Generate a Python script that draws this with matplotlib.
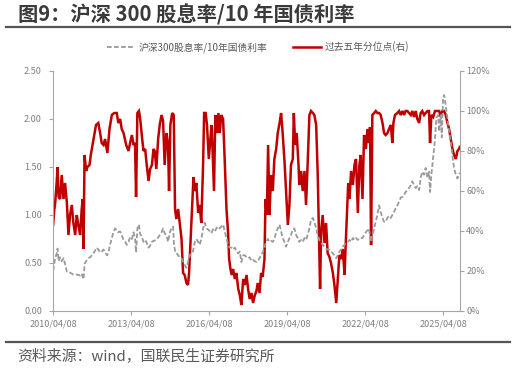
import matplotlib
matplotlib.use("Agg")
import matplotlib.pyplot as plt
import matplotlib.dates as mdates
from datetime import datetime, timedelta

plt.rcParams['font.family'] = ['Noto Sans CJK SC', 'DejaVu Sans']

# ---- data (time in decimal years) ----
red_t = [2010.27, 2010.31, 2010.35, 2010.41, 2010.44, 2010.48, 2010.54, 2010.60, 2010.67, 2010.73,
         2010.80, 2010.86, 2010.92, 2010.99, 2011.05, 2011.12, 2011.18, 2011.24, 2011.31, 2011.37,
         2011.41, 2011.44, 2011.48, 2011.54, 2011.59, 2011.67, 2011.72, 2011.80, 2011.85, 2011.92,
         2012.01, 2012.08, 2012.14, 2012.21, 2012.27, 2012.36, 2012.44, 2012.53, 2012.62, 2012.72,
         2012.78, 2012.85, 2012.91, 2012.98, 2013.08, 2013.17, 2013.23, 2013.30, 2013.36, 2013.42,
         2013.46, 2013.51, 2013.57, 2013.62, 2013.68, 2013.745, 2013.81, 2013.87, 2013.94, 2014.00,
         2014.07, 2014.13, 2014.18, 2014.24, 2014.31, 2014.37, 2014.44, 2014.50, 2014.56, 2014.63,
         2014.69, 2014.73, 2014.78, 2014.85, 2014.91, 2014.96, 2015.01, 2015.08, 2015.14, 2015.21,
         2015.27, 2015.33, 2015.40, 2015.46, 2015.50, 2015.55, 2015.62, 2015.67, 2015.72, 2015.78,
         2015.85, 2015.91, 2015.97, 2016.04, 2016.08, 2016.14, 2016.19, 2016.26, 2016.32, 2016.37,
         2016.42, 2016.46, 2016.51, 2016.58, 2016.63, 2016.68, 2016.74, 2016.81, 2016.87, 2016.94,
         2017.00, 2017.04, 2017.09, 2017.14, 2017.19, 2017.26, 2017.32, 2017.39, 2017.45, 2017.51,
         2017.58, 2017.64, 2017.71, 2017.77, 2017.83, 2017.90, 2017.96, 2018.03, 2018.09, 2018.14,
         2018.21, 2018.27, 2018.33, 2018.40, 2018.44, 2018.49, 2018.54, 2018.59, 2018.655, 2018.72,
         2018.78, 2018.85, 2018.91, 2018.98, 2019.04, 2019.10, 2019.17, 2019.23, 2019.30, 2019.36,
         2019.42, 2019.49, 2019.53, 2019.58, 2019.64, 2019.71, 2019.74, 2019.81, 2019.87, 2019.94,
         2020.00, 2020.06, 2020.13, 2020.19, 2020.26, 2020.32, 2020.39, 2020.45, 2020.49, 2020.54,
         2020.58, 2020.64, 2020.71, 2020.77, 2020.83, 2020.90, 2020.96, 2021.03, 2021.09, 2021.16,
         2021.22, 2021.28, 2021.35, 2021.41, 2021.48, 2021.51, 2021.57, 2021.62, 2021.67, 2021.73,
         2021.80, 2021.86, 2021.92, 2021.99, 2022.05, 2022.10, 2022.17, 2022.23, 2022.30, 2022.36,
         2022.42, 2022.46, 2022.50, 2022.55, 2022.62, 2022.68, 2022.74, 2022.81, 2022.87, 2022.94,
         2023.00, 2023.06, 2023.13, 2023.19, 2023.26, 2023.32, 2023.36, 2023.42, 2023.51, 2023.58,
         2023.64, 2023.71, 2023.77, 2023.83, 2023.90, 2023.96, 2024.03, 2024.09, 2024.15, 2024.22,
         2024.28, 2024.35, 2024.41, 2024.47, 2024.54, 2024.60, 2024.67, 2024.73, 2024.77, 2024.82,
         2024.89, 2024.96, 2025.05, 2025.12, 2025.18, 2025.24, 2025.31, 2025.37, 2025.44, 2025.50,
         2025.565, 2025.63, 2025.69, 2025.76, 2025.82, 2025.885, 2025.91]
red_v = [43, 50, 54, 65, 72, 57, 56, 68, 56, 64,
         54, 38, 48, 53, 44, 38, 48, 43, 38, 51,
         56, 31, 78, 70, 72, 73, 78, 84, 88, 93,
         94, 89, 84, 83, 86, 79, 91, 98, 99, 99,
         94, 96, 91, 89, 83, 80, 84, 88, 83, 84,
         57, 99, 100, 96, 88, 80, 81, 73, 65, 71,
         73, 81, 80, 71, 86, 93, 98, 95, 73, 89,
         83, 60, 93, 99, 98, 51, 46, 51, 44, 36,
         19, 18, 14, 13, 19, 33, 53, 67, 60, 64,
         49, 53, 44, 73, 99, 99, 93, 76, 86, 93,
         75, 60, 98, 89, 99, 89, 98, 96, 76, 51,
         39, 26, 21, 18, 21, 16, 19, 11, 8, 3,
         16, 13, 18, 11, 6, 9, 4, 8, 10, 14,
         9, 19, 17, 26, 56, 48, 83, 48, 68, 60,
         76, 81, 89, 94, 99, 89, 75, 60, 43, 53,
         73, 76, 99, 83, 89, 73, 63, 70, 60, 70,
         53, 73, 98, 100, 99, 98, 93, 68, 43, 11,
         40, 48, 34, 44, 29, 27, 24, 19, 13, 4,
         16, 28, 26, 31, 18, 29, 48, 64, 56, 70,
         63, 73, 76, 49, 73, 78, 56, 88, 81, 91,
         84, 92, 33, 98, 99, 100, 99, 99, 98, 94,
         89, 88, 89, 91, 93, 84, 94, 98, 99, 100,
         98, 100, 98, 100, 100, 99, 98, 100, 97, 100,
         96, 94, 99, 100, 98, 99, 100, 100, 84, 98,
         97, 100, 100, 100, 97, 100, 100, 98, 94, 91,
         86, 81, 78, 76, 80, 81, 82]

gray_t = [2010.27, 2010.35, 2010.41, 2010.44, 2010.48, 2010.54, 2010.60, 2010.67, 2010.73, 2010.80,
          2010.86, 2010.92, 2011.05, 2011.18, 2011.31, 2011.37, 2011.44, 2011.48, 2011.54, 2011.63,
          2011.69, 2011.76, 2011.82, 2011.95, 2012.01, 2012.08, 2012.14, 2012.21, 2012.27, 2012.35,
          2012.40, 2012.46, 2012.53, 2012.59, 2012.655, 2012.72, 2012.78, 2012.85, 2012.91, 2012.98,
          2013.04, 2013.10, 2013.17, 2013.23, 2013.30, 2013.36, 2013.42, 2013.46, 2013.51, 2013.57,
          2013.62, 2013.68, 2013.745, 2013.81, 2013.87, 2013.94, 2014.00, 2014.07, 2014.13, 2014.24,
          2014.37, 2014.44, 2014.50, 2014.56, 2014.63, 2014.69, 2014.76, 2014.82, 2014.885, 2014.92,
          2014.975, 2015.01, 2015.08, 2015.14, 2015.21, 2015.27, 2015.33, 2015.40, 2015.46, 2015.53,
          2015.59, 2015.65, 2015.72, 2015.78, 2015.85, 2015.91, 2015.97, 2016.04, 2016.10, 2016.17,
          2016.23, 2016.30, 2016.36, 2016.42, 2016.49, 2016.55, 2016.62, 2016.68, 2016.74, 2016.81,
          2016.87, 2016.94, 2017.00, 2017.06, 2017.13, 2017.19, 2017.26, 2017.32, 2017.39, 2017.45,
          2017.51, 2017.58, 2017.64, 2017.71, 2017.77, 2017.83, 2017.90, 2017.96, 2018.03, 2018.09,
          2018.14, 2018.21, 2018.27, 2018.33, 2018.40, 2018.46, 2018.53, 2018.59, 2018.655, 2018.72,
          2018.78, 2018.85, 2018.91, 2018.98, 2019.04, 2019.10, 2019.17, 2019.23, 2019.30, 2019.36,
          2019.42, 2019.49, 2019.55, 2019.62, 2019.68, 2019.74, 2019.81, 2019.87, 2019.94, 2020.00,
          2020.06, 2020.13, 2020.19, 2020.26, 2020.32, 2020.39, 2020.45, 2020.51, 2020.58, 2020.64,
          2020.71, 2020.77, 2020.83, 2020.90, 2020.96, 2021.03, 2021.09, 2021.16, 2021.22, 2021.28,
          2021.35, 2021.41, 2021.48, 2021.54, 2021.60, 2021.67, 2021.73, 2021.80, 2021.86, 2021.92,
          2021.99, 2022.05, 2022.10, 2022.17, 2022.23, 2022.30, 2022.36, 2022.42, 2022.49, 2022.53,
          2022.58, 2022.62, 2022.68, 2022.74, 2022.81, 2022.87, 2022.94, 2023.00, 2023.06, 2023.13,
          2023.19, 2023.26, 2023.32, 2023.38, 2023.45, 2023.51, 2023.58, 2023.64, 2023.71, 2023.77,
          2023.83, 2023.90, 2023.96, 2024.03, 2024.09, 2024.15, 2024.22, 2024.28, 2024.35, 2024.41,
          2024.47, 2024.54, 2024.60, 2024.67, 2024.73, 2024.77, 2024.82, 2024.89, 2024.95, 2025.01,
          2025.08, 2025.12, 2025.18, 2025.22, 2025.27, 2025.31, 2025.35, 2025.40, 2025.45, 2025.50,
          2025.565, 2025.63, 2025.69, 2025.76, 2025.82, 2025.885, 2025.91]
gray_v = [0.42, 0.55, 0.60, 0.65, 0.52, 0.56, 0.52, 0.55, 0.49, 0.41,
          0.40, 0.40, 0.38, 0.38, 0.37, 0.39, 0.33, 0.49, 0.52, 0.55,
          0.56, 0.58, 0.60, 0.66, 0.64, 0.61, 0.62, 0.64, 0.61, 0.58,
          0.61, 0.69, 0.76, 0.82, 0.86, 0.84, 0.82, 0.83, 0.79, 0.74,
          0.72, 0.69, 0.72, 0.77, 0.75, 0.82, 0.76, 0.61, 0.86, 0.90,
          0.80, 0.78, 0.72, 0.74, 0.71, 0.66, 0.68, 0.72, 0.73, 0.74,
          0.79, 0.82, 0.86, 0.81, 0.79, 0.72, 0.82, 0.86, 0.88, 0.69,
          0.61, 0.61, 0.58, 0.56, 0.55, 0.51, 0.48, 0.45, 0.51, 0.58,
          0.61, 0.62, 0.72, 0.75, 0.72, 0.69, 0.75, 0.86, 0.92, 0.86,
          0.85, 0.83, 0.81, 0.85, 0.83, 0.86, 0.88, 0.86, 0.88, 0.90,
          0.83, 0.76, 0.69, 0.66, 0.66, 0.64, 0.66, 0.62, 0.60, 0.62,
          0.51, 0.58, 0.58, 0.56, 0.55, 0.56, 0.52, 0.53, 0.52, 0.51,
          0.52, 0.55, 0.58, 0.61, 0.66, 0.72, 0.75, 0.72, 0.73, 0.72,
          0.75, 0.82, 0.86, 0.90, 0.83, 0.76, 0.72, 0.67, 0.72, 0.76,
          0.79, 0.85, 0.86, 0.79, 0.76, 0.72, 0.74, 0.72, 0.76, 0.74,
          0.79, 0.86, 0.95, 0.97, 0.93, 0.86, 0.79, 0.74, 0.71, 0.69,
          0.67, 0.65, 0.64, 0.64, 0.62, 0.60, 0.58, 0.55, 0.58, 0.62,
          0.64, 0.67, 0.69, 0.71, 0.72, 0.74, 0.72, 0.76, 0.74, 0.76,
          0.74, 0.76, 0.76, 0.76, 0.79, 0.82, 0.84, 0.86, 0.72, 0.79,
          0.82, 0.86, 0.93, 1.00, 1.10, 1.03, 0.97, 0.93, 0.93, 0.97,
          0.99, 0.97, 1.00, 1.03, 1.07, 1.10, 1.14, 1.18, 1.19, 1.21,
          1.24, 1.26, 1.28, 1.31, 1.35, 1.31, 1.28, 1.30, 1.26, 1.39,
          1.45, 1.42, 1.49, 1.39, 1.45, 1.24, 1.42, 1.60, 1.76, 2.01,
          2.04, 1.87, 2.04, 1.81, 2.22, 2.25, 2.18, 2.08, 1.98, 1.87,
          1.76, 1.62, 1.49, 1.42, 1.38, 1.42, 1.44]

tick_dates = ["2010-04-08", "2013-04-08", "2016-04-08", "2019-04-08", "2022-04-08", "2025-04-08"]
left_ticks = [0.0, 0.5, 1.0, 1.5, 2.0, 2.5]
right_ticks = [0, 20, 40, 60, 80, 100, 120]

title = "图9：沪深 300 股息率/10 年国债利率"
source = "资料来源：wind，国联民生证券研究所"
gray_label = "沪深300股息率/10年国债利率"
red_label = "过去五年分位点(右)"


def to_date(y):
    yi = int(y)
    return datetime(yi, 1, 1) + timedelta(days=(y - yi) * 365.25)


red_d = [to_date(t) for t in red_t]
gray_d = [to_date(t) for t in gray_t]

GRAY = "#9a9a9a"
RED = "#c00000"
TICKC = "#7f7f7f"
SPINE = "#a6a6a6"

fig = plt.figure(figsize=(5.16, 3.69), dpi=100)
ax = fig.add_axes([53 / 516, 1 - 311 / 369, 407 / 516, 240 / 369])
ax2 = ax.twinx()

l2, = ax2.plot(red_d, red_v, color=RED, lw=1.8, solid_joinstyle='miter', label=red_label)
l1, = ax.plot(gray_d, gray_v, color=GRAY, lw=1.3, linestyle=(0, (2.6, 1.3)), label=gray_label)

ax.set_zorder(ax2.get_zorder() + 1)
ax.patch.set_visible(False)

ax.set_ylim(0, 2.5)
ax2.set_ylim(0, 120)
ax.set_xlim(datetime(2010, 4, 8), datetime(2025, 12, 3))
ax.set_yticks(left_ticks)
ax.set_yticklabels([f"{v:.2f}" for v in left_ticks])
ax2.set_yticks(right_ticks)
ax2.set_yticklabels([f"{v}%" for v in right_ticks])
ax.set_xticks([datetime.strptime(d, "%Y-%m-%d") for d in tick_dates])
ax.xaxis.set_major_formatter(mdates.DateFormatter("%Y/%m/%d"))

for a in (ax, ax2):
    for s in a.spines.values():
        s.set_color(SPINE)
        s.set_linewidth(0.8)
    a.spines['top'].set_visible(False)
ax.spines['right'].set_visible(False)
ax2.spines['left'].set_visible(False)
ax2.spines['bottom'].set_visible(False)

ax.tick_params(axis='y', direction='out', length=3, width=0.8, color=SPINE,
               labelsize=6.5, labelcolor=TICKC, pad=5)
ax.tick_params(axis='x', direction='out', length=3, width=0.8, color=SPINE,
               labelsize=6.5, labelcolor=TICKC, pad=3)
ax2.tick_params(axis='y', direction='out', length=3, width=0.8, color=SPINE,
                labelsize=6.5, labelcolor=TICKC, pad=1.5)

fig.legend(handles=[l1, l2], loc='center', bbox_to_anchor=(0.5, 1 - 47 / 369), ncol=2,
           frameon=False, fontsize=7, handlelength=2.9, handletextpad=0.4,
           columnspacing=2.6, labelcolor="#595959")

fig.text(18 / 516, 1 - 15 / 369, title, fontsize=14.6, fontweight='bold', color="#3a3a3a",
         ha='left', va='center')
fig.text(17 / 516, 1 - 357 / 369, source, fontsize=10.75, color="#595959",
         ha='left', va='center')
fig.add_artist(plt.Line2D([6 / 516, 510 / 516], [1 - 27 / 369] * 2, color="#555555", lw=1.6))
fig.add_artist(plt.Line2D([6 / 516, 510 / 516], [1 - 342 / 369] * 2, color="#555555", lw=1.6))

fig.savefig("out.png", dpi=100)
